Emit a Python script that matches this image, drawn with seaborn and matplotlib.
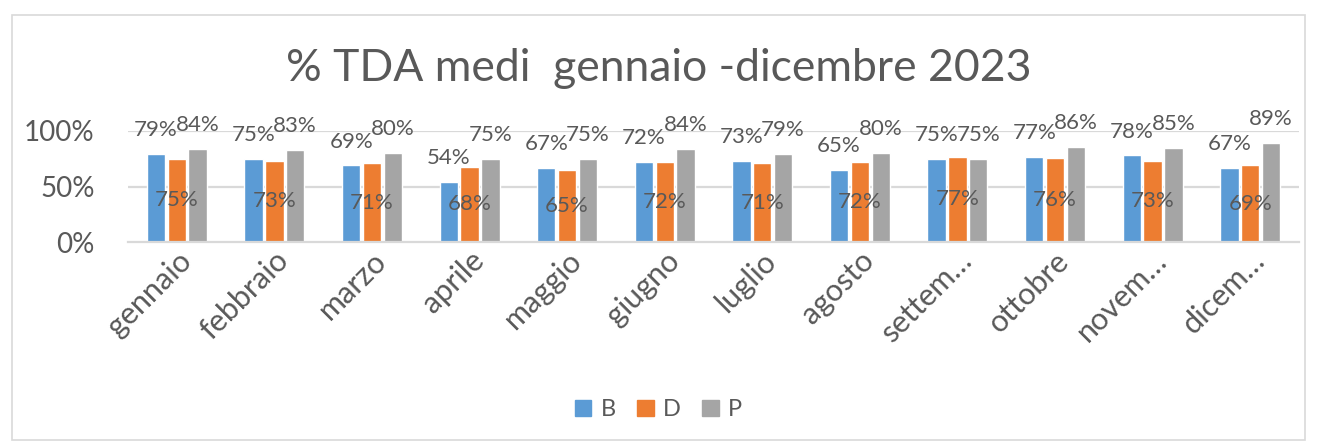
import matplotlib
matplotlib.use("Agg")
import matplotlib.pyplot as plt
import matplotlib.patches as mpatches
import seaborn as sns
import pandas as pd

months = ["gennaio", "febbraio", "marzo", "aprile", "maggio", "giugno",
          "luglio", "agosto", "settembre", "ottobre", "novembre", "dicembre"]
tick_labels = ["gennaio", "febbraio", "marzo", "aprile", "maggio", "giugno",
               "luglio", "agosto", "settem…", "ottobre", "novem…", "dicem…"]
series_names = ["B", "D", "P"]
B = [0.79, 0.75, 0.69, 0.54, 0.67, 0.72, 0.73, 0.65, 0.75, 0.77, 0.78, 0.67]
D = [0.75, 0.73, 0.71, 0.68, 0.65, 0.72, 0.71, 0.72, 0.77, 0.76, 0.73, 0.69]
P = [0.84, 0.83, 0.80, 0.75, 0.75, 0.84, 0.79, 0.80, 0.75, 0.86, 0.85, 0.89]
title = "% TDA medi  gennaio -dicembre 2023"

rows = []
for name, vals in zip(series_names, [B, D, P]):
    for m, v in zip(months, vals):
        rows.append({"mese": m, "serie": name, "valore": v})
df = pd.DataFrame(rows)

sns.set_theme(style="white")
plt.rcParams["font.family"] = ["Lato", "DejaVu Sans"]
txt = "#595959"
grid = "#D9D9D9"
palette = {"B": "#5B9BD5", "D": "#ED7D31", "P": "#A5A5A5"}

fig = plt.figure(figsize=(13.17, 4.48), dpi=100)
ax = fig.add_axes([128 / 1317, 0.4598, 1171 / 1317, 0.2478])

sns.barplot(data=df, x="mese", y="valore", hue="serie", order=months,
            hue_order=series_names, palette=palette, width=0.64, gap=0.12,
            saturation=1, ax=ax, legend=False)

ax.set_ylim(0, 1.0)
ax.set_xlim(-0.5, len(months) - 0.5)
ax.set_yticks([0, 0.5, 1.0])
ax.set_yticklabels(["0%", "50%", "100%"])
for y in [0.5, 1.0]:
    ax.axhline(y, color=grid, lw=1.6, zorder=0)
for s in ["top", "right", "left"]:
    ax.spines[s].set_visible(False)
ax.spines["bottom"].set_color(grid)
ax.spines["bottom"].set_linewidth(1.6)
ax.set_xlabel("")
ax.set_ylabel("")
ax.tick_params(axis="y", labelsize=20, colors=txt, length=0, pad=24)
ax.tick_params(axis="x", labelsize=22, colors=txt, length=0, pad=3)
ax.set_xticks(range(len(months)))
ax.set_xticklabels(tick_labels, rotation=45, ha="right", rotation_mode="anchor")

fmt = lambda v: f"{v*100:.0f}%"
conts = ax.containers
ax.bar_label(conts[0], labels=[fmt(v) for v in B], padding=10, fontsize=16, color=txt, clip_on=False)
ax.bar_label(conts[1], labels=[fmt(v) for v in D], label_type="center", fontsize=16, color=txt)
ax.bar_label(conts[2], labels=[fmt(v) for v in P], padding=10, fontsize=16, color=txt, clip_on=False)

fig.text(0.5, 0.848, title, ha="center", va="center", fontsize=32, color=txt)

handles = [mpatches.Patch(color=palette[n], label=n) for n in series_names]
fig.legend(handles=handles, loc="center", bbox_to_anchor=(0.5, 0.085), ncol=3,
           frameon=False, fontsize=17, handlelength=0.7, handleheight=0.7,
           columnspacing=0.9, handletextpad=0.4, labelcolor=txt)

fig.patches.append(mpatches.Rectangle((0.009, 0.018), 0.982, 0.948, transform=fig.transFigure,
                                      fill=False, edgecolor=grid, lw=1.2))

fig.savefig("out.png", dpi=100)
